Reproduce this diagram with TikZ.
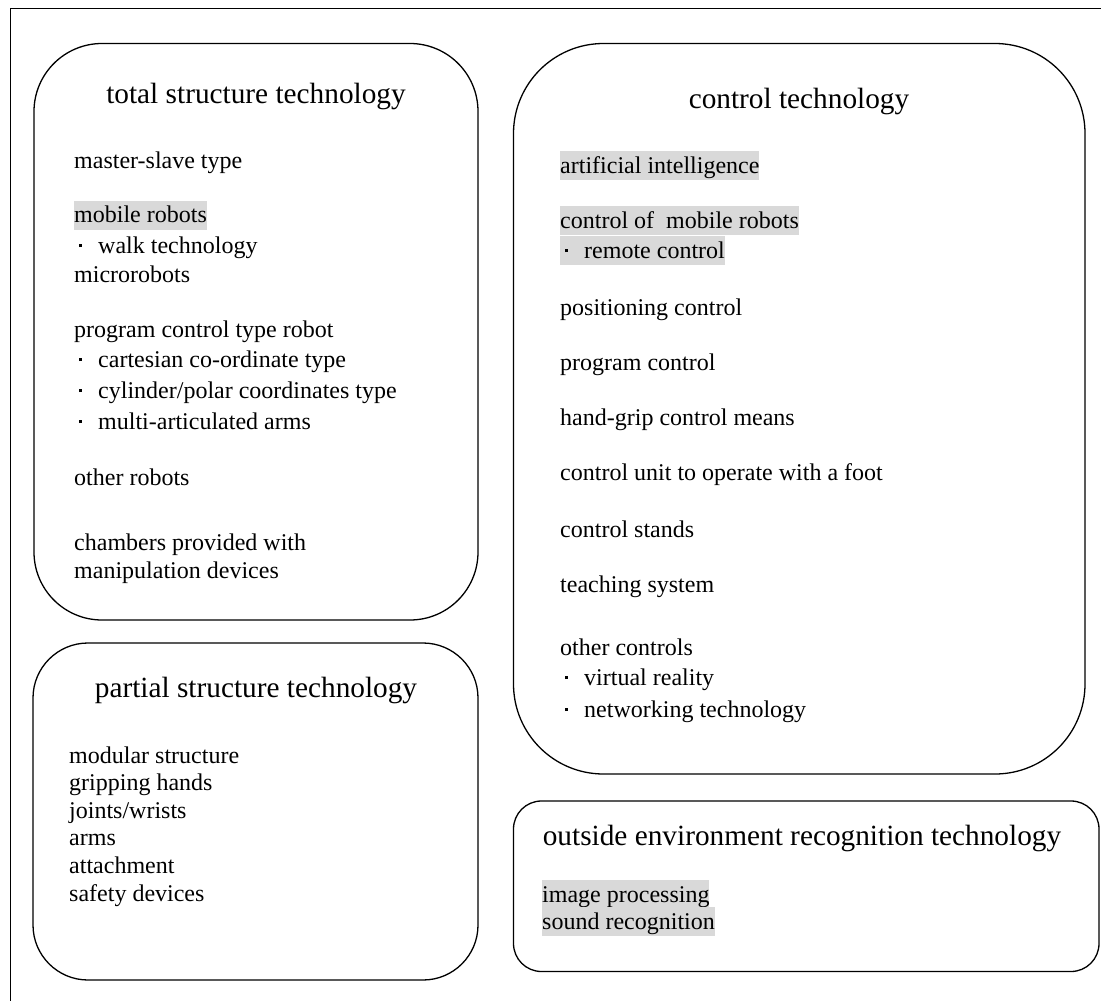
\documentclass[tikz,border=0pt]{standalone}
\usepackage{fontspec}
\setmainfont{Liberation Serif}
\definecolor{hlgray}{HTML}{D9D9D9}
\newcommand\dotmark{\makebox[24pt][l]{\hspace{4.5pt}\rule[6pt]{3.5pt}{3.5pt}}}
\begin{document}
\begin{tikzpicture}[x=1pt,y=-1pt,
  head/.style={anchor=base,inner sep=0pt,font=\fontsize{29.3}{35}\selectfont},
  item/.style={anchor=base west,inner sep=0pt,font=\fontsize{24}{30}\selectfont},
  hl/.style={item,fill=hlgray,text height=22pt,text depth=7pt},
  box/.style={line width=1.3pt}]
\useasboundingbox (0,0) rectangle (1101,1001);
\draw[line width=1pt] (10,1001) -- (10,8.5) -- (1101,8.5);

% boxes
\draw[box,rounded corners=68pt] (34,43.5) rectangle (478,620);
\draw[box,rounded corners=90pt] (513.5,43.5) rectangle (1085,774);
\draw[box,rounded corners=55pt] (33,643) rectangle (478,980);
\draw[box,rounded corners=28pt] (513.5,801) rectangle (1099,971.5);

% total structure technology
\node(total) at (256,103.3)[head] {total structure technology};
\node(master) at (74,168)[item] {master-slave type};
\node(mobile) at (74,222.7)[hl] {mobile robots};
\node(walk) at (74,253)[item] {\dotmark walk technology};
\node(micro) at (74,282)[item] {microrobots};
\node(program) at (74,337)[item] {program control type robot};
\node(cartesian) at (74,367)[item] {\dotmark cartesian co-ordinate type};
\node(cylinder) at (74,398)[item] {\dotmark cylinder/polar coordinates type};
\node(multi) at (74,429)[item] {\dotmark multi-articulated arms};
\node(otherrob) at (74,485)[item] {other robots};
\node(chambers) at (74,550)[item] {chambers provided with};
\node(manip) at (74,578)[item] {manipulation devices};

% control technology
\node(control) at (799,108)[head] {control technology};
\node(ai) at (560,173)[hl] {artificial intelligence};
\node(ctrlmob) at (560,228)[hl] {control of~ mobile robots};
\node(remote) at (560,258)[hl] {\dotmark remote control};
\node(position) at (560,315)[item] {positioning control};
\node(progctrl) at (560,370)[item] {program control};
\node(handgrip) at (560,425)[item] {hand-grip control means};
\node(foot) at (560,480)[item] {control unit to operate with a foot};
\node(stands) at (560,537)[item] {control stands};
\node(teaching) at (560,592)[item] {teaching system};
\node(otherctrl) at (560,655)[item] {other controls};
\node(virtual) at (560,685)[item] {\dotmark virtual reality};
\node(network) at (560,717)[item] {\dotmark networking technology};

% partial structure technology
\node(partial) at (256,697)[head] {partial structure technology};
\node(modular) at (69,763)[item] {modular structure};
\node(gripping) at (69,790)[item] {gripping hands};
\node(joints) at (69,818)[item] {joints/wrists};
\node(arms) at (69,845)[item] {arms};
\node(attach) at (69,873)[item] {attachment};
\node(safety) at (69,901)[item] {safety devices};

% outside environment recognition technology
\node(outside) at (802,845)[head] {outside environment recognition technology};
\node(image) at (542,902)[hl] {image processing};
\node(sound) at (542,929)[hl] {sound recognition};

\end{tikzpicture}
\end{document}
